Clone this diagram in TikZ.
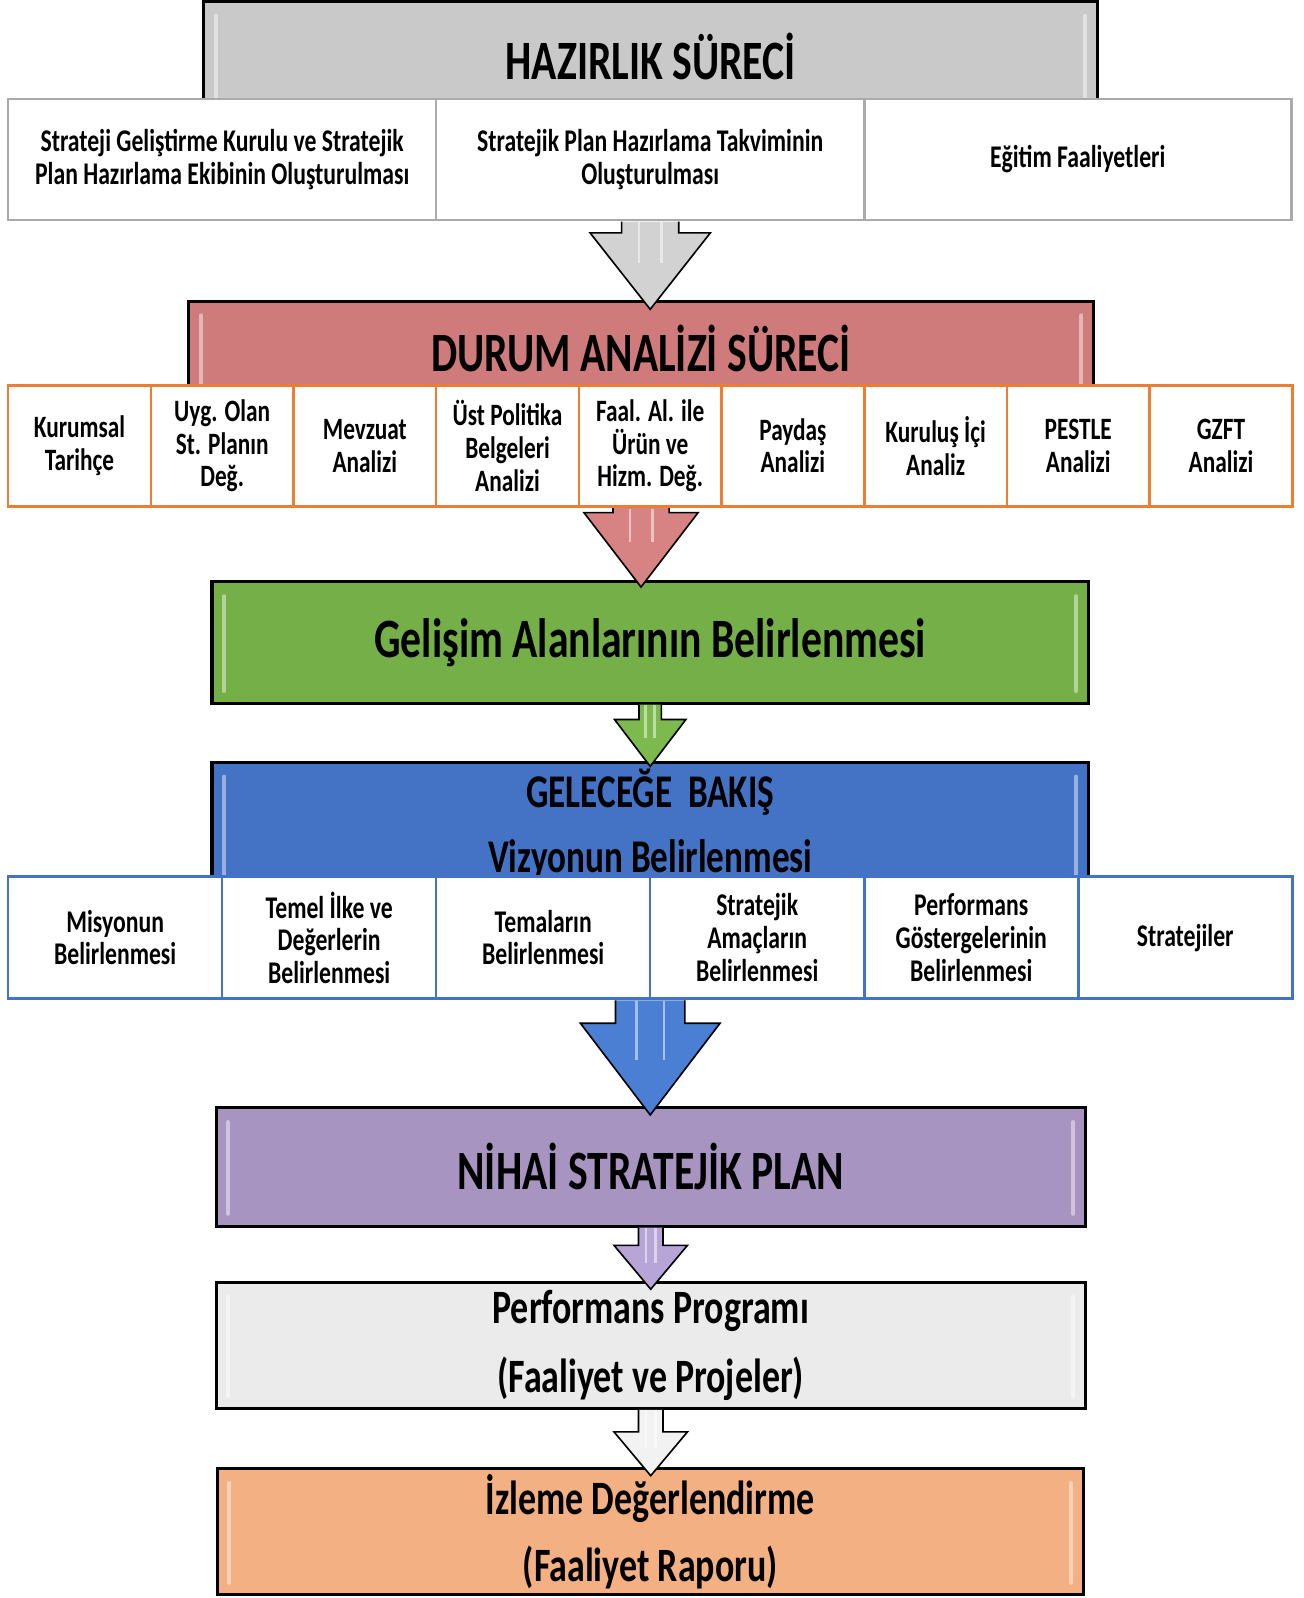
\documentclass[tikz,border=0pt]{standalone}
\usepackage{fontspec}
\setmainfont{Carlito}[FakeStretch=0.75]
\usetikzlibrary{positioning, calc}

\definecolor{hzrgray}{HTML}{C9C9C9}
\definecolor{durred}{HTML}{D07B7B}
\definecolor{grnfill}{HTML}{74AF47}
\definecolor{gelblue}{HTML}{4472C4}
\definecolor{nihpurple}{HTML}{A794C1}
\definecolor{prfgray}{HTML}{EBEBEB}
\definecolor{izlorange}{HTML}{F3B083}
\definecolor{rowgray}{HTML}{AAAAAA}
\definecolor{roworange}{HTML}{ED7D31}
\definecolor{rowblue}{HTML}{4472C4}
\definecolor{arrgray}{HTML}{D2D2D2}
\definecolor{arrred}{HTML}{D88383}
\definecolor{arrgreen}{HTML}{7DBA4E}
\definecolor{arrblue}{HTML}{4A7FD4}
\definecolor{arrpurple}{HTML}{B8A5D8}
\definecolor{arrwhite}{HTML}{F2F2F2}

\tikzset{
  bigbox/.style={draw=black, line width=3pt, inner sep=0pt, outer sep=0pt, align=center, font=\bfseries\fontsize{54.5}{62}\selectfont},
  cellbox/.style={draw=#1, fill=white, line width=2.5pt, inner sep=0pt, outer sep=0pt, minimum height=119pt, align=center, font=\bfseries\fontsize{31}{32}\selectfont},
  arrowline/.style={draw=black, line width=1.6pt, line join=miter},
  bevel/.style={white, opacity=.45, line width=4pt, line cap=round},
}

% block arrow: start, target node, half shaft, half head, head length, overshoot, colour
\newcommand\flowarrow[7]{%
  \coordinate (fa-s) at (#1);
  \coordinate (fa-t) at ($(fa-s |- #2.north)+(0,#6)$);
  \fill[#7] ($(fa-s)+(-#3,1.5)$) -- ($(fa-t)+(-#3,-#5)$) -- ($(fa-t)+(-#4,-#5)$) -- (fa-t)
    -- ($(fa-t)+(#4,-#5)$) -- ($(fa-t)+(#3,-#5)$) -- ($(fa-s)+(#3,1.5)$) -- cycle;
  \draw[white, opacity=.5, line width=2.5pt] ($(fa-s)+(-.4*#3,2)$) -- ($(fa-t)+(-.4*#3,-.6*#5)$);
  \draw[white, opacity=.5, line width=2.5pt] ($(fa-s)+(.4*#3,2)$) -- ($(fa-t)+(.4*#3,-.6*#5)$);
  \draw[arrowline] ($(fa-s)+(-#3,1.5)$) -- ($(fa-t)+(-#3,-#5)$) -- ($(fa-t)+(-#4,-#5)$) -- (fa-t)
    -- ($(fa-t)+(#4,-#5)$) -- ($(fa-t)+(#3,-#5)$) -- ($(fa-s)+(#3,1.5)$);
}

\begin{document}
\begin{tikzpicture}[x=1pt, y=-1pt]
  \useasboundingbox (0,0) rectangle (1279,1568);

  % Main boxes
  \node (hzr) [bigbox, fill=hzrgray, minimum width=877pt, minimum height=107pt] at (638.5,55) {HAZIRLIK SÜRECİ};
  \node (dur) [bigbox, fill=durred, minimum width=888pt, minimum height=93pt] at (629,342) {DURUM ANALİZİ SÜRECİ};
  \node (grn) [bigbox, fill=grnfill, minimum width=860pt, minimum height=119pt] at (638,630.5) {Gelişim Alanlarının Belirlenmesi};
  \node (gel) [bigbox, fill=gelblue, minimum width=860pt, minimum height=122pt, font=\bfseries\fontsize{46}{63}\selectfont] at (638,809) {GELECEĞE~~BAKIŞ\\Vizyonun Belirlenmesi};
  \node (nih) [bigbox, fill=nihpurple, minimum width=853pt, minimum height=116pt] at (638.5,1145) {NİHAİ STRATEJİK PLAN};
  \node (prf) [bigbox, fill=prfgray, minimum width=853pt, minimum height=124pt, font=\bfseries\fontsize{47}{67}\selectfont] at (638.5,1320) {Performans Programı\\(Faaliyet ve Projeler)};
  \node (izl) [bigbox, fill=izlorange, minimum width=850pt, minimum height=124pt, font=\bfseries\fontsize{47}{66}\selectfont] at (638,1503) {İzleme Değerlendirme\\(Faaliyet Raporu)};

  % Bevel highlights
  \foreach \b in {hzr,dur,grn,gel,nih,prf,izl} {
    \draw[bevel] ($(\b.north west)+(12,14)$) -- ($(\b.south west)+(12,-12)$);
    \draw[bevel] ($(\b.north east)+(-12,14)$) -- ($(\b.south east)+(-12,-12)$);
  }

  % Hazirlik row
  \node (h1) [cellbox=rowgray, minimum width=420pt] at (218,156.5) {Strateji Geliştirme Kurulu ve Stratejik\\Plan Hazırlama Ekibinin Oluşturulması};
  \node (h2) [cellbox=rowgray, minimum width=420pt, right=0pt of h1] {Stratejik Plan Hazırlama Takviminin\\Oluşturulması};
  \node (h3) [cellbox=rowgray, minimum width=419pt, right=0pt of h2] {Eğitim Faaliyetleri};

  % Durum analizi row
  \tikzset{dcell/.style={cellbox=roworange, minimum width=140pt, font=\bfseries\fontsize{30.5}{32}\selectfont}}
  \node (d1) [dcell] at (78,437.5) {Kurumsal\\Tarihçe};
  \node (d2) [dcell, right=0pt of d1] {Uyg. Olan\\St. Planın\\Değ.};
  \node (d3) [dcell, right=0pt of d2] {Mevzuat\\Analizi};
  \node (d4) [dcell, right=0pt of d3] {Üst Politika\\Belgeleri\\Analizi};
  \node (d5) [dcell, right=0pt of d4] {Faal. Al. ile\\Ürün ve\\Hizm. Değ.};
  \node (d6) [dcell, right=0pt of d5] {Paydaş\\Analizi};
  \node (d7) [dcell, right=0pt of d6] {Kuruluş İçi\\Analiz};
  \node (d8) [dcell, right=0pt of d7] {PESTLE\\Analizi};
  \node (d9) [dcell, right=0pt of d8] {GZFT\\Analizi};

  % Gelecege bakis row
  \tikzset{gcell/.style={cellbox=rowblue, minimum width=210pt, minimum height=120pt}}
  \node (g1) [gcell] at (113,920) {Misyonun\\Belirlenmesi};
  \node (g2) [gcell, right=0pt of g1] {Temel İlke ve\\Değerlerin\\Belirlenmesi};
  \node (g3) [gcell, right=0pt of g2] {Temaların\\Belirlenmesi};
  \node (g4) [gcell, right=0pt of g3] {Stratejik\\Amaçların\\Belirlenmesi};
  \node (g5) [gcell, right=0pt of g4] {Performans\\Göstergelerinin\\Belirlenmesi};
  \node (g6) [gcell, right=0pt of g5] {Stratejiler};

  % Arrows
  \flowarrow{h2.south}{dur}{28}{59}{75}{8}{arrgray}
  \coordinate (a2) at (d5.south -| dur.center);
  \flowarrow{a2}{grn}{27.5}{56}{73}{5}{arrred}
  \flowarrow{grn.south}{gel}{11}{35}{46}{4}{arrgreen}
  \flowarrow{g3.south east}{nih}{34}{68.5}{90}{7}{arrblue}
  \flowarrow{nih.south}{prf}{12}{36}{43}{7}{arrpurple}
  \flowarrow{prf.south}{izl}{12}{36}{43}{7}{arrwhite}
\end{tikzpicture}
\end{document}
